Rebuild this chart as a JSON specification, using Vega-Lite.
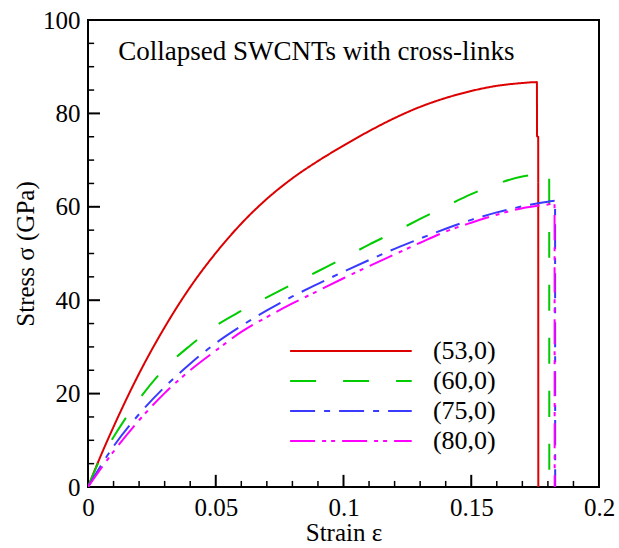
{
  "$schema": "https://vega.github.io/schema/vega-lite/v6.json",
  "width": 511,
  "height": 467,
  "autosize": {"type": "none"},
  "padding": {"left": 88, "top": 20, "right": 20, "bottom": 61},
  "background": "white",
  "config": {
    "view": {"stroke": "black", "strokeWidth": 2},
    "font": "Liberation Serif",
    "axis": {
      "domain": false,
      "grid": false,
      "ticks": false,
      "labelFont": "Liberation Serif",
      "labelFontSize": 25,
      "labelColor": "black",
      "titleFont": "Liberation Serif",
      "titleFontSize": 25,
      "titleFontWeight": "normal",
      "titleColor": "black"
    }
  },
  "resolve": {"scale": {"y": "independent"}, "axis": {"x": "independent", "y": "independent"}},
  "datasets": {
    "curves": [
      {"s": "(53,0)", "e": 0, "sig": 0},
      {"s": "(53,0)", "e": 0.005, "sig": 6.7},
      {"s": "(53,0)", "e": 0.01, "sig": 12.9},
      {"s": "(53,0)", "e": 0.02, "sig": 24.3},
      {"s": "(53,0)", "e": 0.03, "sig": 34.2},
      {"s": "(53,0)", "e": 0.04, "sig": 42.8},
      {"s": "(53,0)", "e": 0.05, "sig": 50.1},
      {"s": "(53,0)", "e": 0.06, "sig": 56.4},
      {"s": "(53,0)", "e": 0.07, "sig": 61.7},
      {"s": "(53,0)", "e": 0.08, "sig": 66.1},
      {"s": "(53,0)", "e": 0.09, "sig": 69.8},
      {"s": "(53,0)", "e": 0.1, "sig": 73.1},
      {"s": "(53,0)", "e": 0.11, "sig": 76.2},
      {"s": "(53,0)", "e": 0.12, "sig": 79.0},
      {"s": "(53,0)", "e": 0.13, "sig": 81.4},
      {"s": "(53,0)", "e": 0.14, "sig": 83.3},
      {"s": "(53,0)", "e": 0.15, "sig": 84.8},
      {"s": "(53,0)", "e": 0.16, "sig": 85.9},
      {"s": "(53,0)", "e": 0.17, "sig": 86.5},
      {"s": "(53,0)", "e": 0.1757, "sig": 86.7},
      {"s": "(53,0)", "e": 0.17575, "sig": 75.1},
      {"s": "(53,0)", "e": 0.1762, "sig": 75.0},
      {"s": "(53,0)", "e": 0.17625, "sig": 0},
      {"s": "(60,0)", "e": 0, "sig": 0},
      {"s": "(60,0)", "e": 0.004, "sig": 5.1},
      {"s": "(60,0)", "e": 0.01, "sig": 10.7},
      {"s": "(60,0)", "e": 0.02, "sig": 18.8},
      {"s": "(60,0)", "e": 0.03, "sig": 25.4},
      {"s": "(60,0)", "e": 0.04, "sig": 30.3},
      {"s": "(60,0)", "e": 0.05, "sig": 34.5},
      {"s": "(60,0)", "e": 0.06, "sig": 37.7},
      {"s": "(60,0)", "e": 0.07, "sig": 40.6},
      {"s": "(60,0)", "e": 0.08, "sig": 43.4},
      {"s": "(60,0)", "e": 0.09, "sig": 46.2},
      {"s": "(60,0)", "e": 0.1, "sig": 49.0},
      {"s": "(60,0)", "e": 0.11, "sig": 51.9},
      {"s": "(60,0)", "e": 0.12, "sig": 54.6},
      {"s": "(60,0)", "e": 0.13, "sig": 57.4},
      {"s": "(60,0)", "e": 0.14, "sig": 60.1},
      {"s": "(60,0)", "e": 0.15, "sig": 62.7},
      {"s": "(60,0)", "e": 0.16, "sig": 64.9},
      {"s": "(60,0)", "e": 0.17, "sig": 66.5},
      {"s": "(60,0)", "e": 0.1771, "sig": 67.0},
      {"s": "(60,0)", "e": 0.1805, "sig": 67.2},
      {"s": "(60,0)", "e": 0.18055, "sig": 0},
      {"s": "(75,0)", "e": 0, "sig": 0},
      {"s": "(75,0)", "e": 0.01, "sig": 8.7},
      {"s": "(75,0)", "e": 0.02, "sig": 15.6},
      {"s": "(75,0)", "e": 0.03, "sig": 21.4},
      {"s": "(75,0)", "e": 0.04, "sig": 26.4},
      {"s": "(75,0)", "e": 0.05, "sig": 30.8},
      {"s": "(75,0)", "e": 0.06, "sig": 34.5},
      {"s": "(75,0)", "e": 0.07, "sig": 37.8},
      {"s": "(75,0)", "e": 0.08, "sig": 40.8},
      {"s": "(75,0)", "e": 0.09, "sig": 43.5},
      {"s": "(75,0)", "e": 0.1, "sig": 46.1},
      {"s": "(75,0)", "e": 0.11, "sig": 48.6},
      {"s": "(75,0)", "e": 0.12, "sig": 51.0},
      {"s": "(75,0)", "e": 0.13, "sig": 53.2},
      {"s": "(75,0)", "e": 0.14, "sig": 55.3},
      {"s": "(75,0)", "e": 0.15, "sig": 57.2},
      {"s": "(75,0)", "e": 0.16, "sig": 58.8},
      {"s": "(75,0)", "e": 0.17, "sig": 60.1},
      {"s": "(75,0)", "e": 0.18, "sig": 61.1},
      {"s": "(75,0)", "e": 0.1828, "sig": 61.3},
      {"s": "(75,0)", "e": 0.18285, "sig": 0},
      {"s": "(80,0)", "e": 0, "sig": 0},
      {"s": "(80,0)", "e": 0.01, "sig": 7.6},
      {"s": "(80,0)", "e": 0.02, "sig": 14.3},
      {"s": "(80,0)", "e": 0.03, "sig": 20.1},
      {"s": "(80,0)", "e": 0.04, "sig": 25.0},
      {"s": "(80,0)", "e": 0.05, "sig": 29.2},
      {"s": "(80,0)", "e": 0.06, "sig": 33.2},
      {"s": "(80,0)", "e": 0.07, "sig": 36.4},
      {"s": "(80,0)", "e": 0.08, "sig": 39.3},
      {"s": "(80,0)", "e": 0.09, "sig": 42.0},
      {"s": "(80,0)", "e": 0.1, "sig": 44.7},
      {"s": "(80,0)", "e": 0.11, "sig": 47.3},
      {"s": "(80,0)", "e": 0.12, "sig": 49.8},
      {"s": "(80,0)", "e": 0.13, "sig": 52.3},
      {"s": "(80,0)", "e": 0.14, "sig": 54.7},
      {"s": "(80,0)", "e": 0.15, "sig": 56.6},
      {"s": "(80,0)", "e": 0.16, "sig": 58.3},
      {"s": "(80,0)", "e": 0.17, "sig": 59.7},
      {"s": "(80,0)", "e": 0.18, "sig": 60.5},
      {"s": "(80,0)", "e": 0.1826, "sig": 60.7},
      {"s": "(80,0)", "e": 0.18265, "sig": 0}
    ],
    "xticks": [
      {"v": 0.01, "kind": "minor"}, {"v": 0.02, "kind": "minor"}, {"v": 0.03, "kind": "minor"}, {"v": 0.04, "kind": "minor"},
      {"v": 0.05, "kind": "major"},
      {"v": 0.06, "kind": "minor"}, {"v": 0.07, "kind": "minor"}, {"v": 0.08, "kind": "minor"}, {"v": 0.09, "kind": "minor"},
      {"v": 0.1, "kind": "major"},
      {"v": 0.11, "kind": "minor"}, {"v": 0.12, "kind": "minor"}, {"v": 0.13, "kind": "minor"}, {"v": 0.14, "kind": "minor"},
      {"v": 0.15, "kind": "major"},
      {"v": 0.16, "kind": "minor"}, {"v": 0.17, "kind": "minor"}, {"v": 0.18, "kind": "minor"}, {"v": 0.19, "kind": "minor"}
    ],
    "yticks": [
      {"v": 5, "kind": "minor"}, {"v": 10, "kind": "minor"}, {"v": 15, "kind": "minor"},
      {"v": 20, "kind": "major"},
      {"v": 25, "kind": "minor"}, {"v": 30, "kind": "minor"}, {"v": 35, "kind": "minor"},
      {"v": 40, "kind": "major"},
      {"v": 45, "kind": "minor"}, {"v": 50, "kind": "minor"}, {"v": 55, "kind": "minor"},
      {"v": 60, "kind": "major"},
      {"v": 65, "kind": "minor"}, {"v": 70, "kind": "minor"}, {"v": 75, "kind": "minor"},
      {"v": 80, "kind": "major"},
      {"v": 85, "kind": "minor"}, {"v": 90, "kind": "minor"}, {"v": 95, "kind": "minor"}
    ],
    "series": [{"s": "(53,0)"}, {"s": "(60,0)"}, {"s": "(75,0)"}, {"s": "(80,0)"}],
    "note": [{"t": "Collapsed SWCNTs with cross-links"}]
  },
  "layer": [
    {
      "data": {"name": "curves"},
      "mark": {"type": "line", "strokeWidth": 2, "clip": true, "interpolate": "monotone"},
      "encoding": {
        "x": {
          "field": "e", "type": "quantitative",
          "scale": {"domain": [0, 0.2], "nice": false, "zero": false},
          "axis": {
            "title": "Strain ε",
            "orient": "bottom",
            "values": [0, 0.05, 0.1, 0.15, 0.2],
            "labelExpr": "datum.value == 0 ? '0' : format(datum.value, '')",
            "labelPadding": 8,
            "labelFlush": false,
            "labelOverlap": false,
            "titleY": 33,
            "titleBaseline": "top"
          }
        },
        "y": {
          "field": "sig", "type": "quantitative",
          "scale": {"domain": [0, 100], "nice": false},
          "axis": {
            "title": "Stress σ (GPa)",
            "orient": "left",
            "values": [0, 20, 40, 60, 80, 100],
            "labelPadding": 8,
            "labelFlush": false,
            "labelOverlap": false,
            "titlePadding": 4
          }
        },
        "color": {
          "field": "s", "type": "nominal",
          "scale": {"domain": ["(53,0)", "(60,0)", "(75,0)", "(80,0)"], "range": ["#dd0000", "#00cc00", "#3a3aff", "#ff00ff"]},
          "legend": null
        },
        "strokeDash": {
          "field": "s", "type": "nominal",
          "scale": {"domain": ["(53,0)", "(60,0)", "(75,0)", "(80,0)"], "range": [[1, 0], [26, 27], [25, 9, 6, 9], [25, 7, 4, 5, 4, 7]]},
          "legend": null
        }
      }
    },
    {
      "data": {"name": "xticks"},
      "transform": [{"filter": "datum.kind == 'major'"}],
      "mark": {"type": "rule", "strokeWidth": 2, "color": "black"},
      "encoding": {
        "x": {"field": "v", "type": "quantitative", "axis": null},
        "y": {"datum": 0, "type": "quantitative", "axis": null, "scale": {"domain": [0, 100], "nice": false}},
        "y2": {"datum": 2.6}
      }
    },
    {
      "data": {"name": "xticks"},
      "transform": [{"filter": "datum.kind == 'minor'"}],
      "mark": {"type": "rule", "strokeWidth": 1.5, "color": "black"},
      "encoding": {
        "x": {"field": "v", "type": "quantitative", "axis": null},
        "y": {"datum": 0, "type": "quantitative", "axis": null, "scale": {"domain": [0, 100], "nice": false}},
        "y2": {"datum": 1.3}
      }
    },
    {
      "data": {"name": "yticks"},
      "transform": [{"filter": "datum.kind == 'major'"}],
      "mark": {"type": "rule", "strokeWidth": 2, "color": "black"},
      "encoding": {
        "y": {"field": "v", "type": "quantitative", "axis": null, "scale": {"domain": [0, 100], "nice": false}},
        "x": {"datum": 0, "type": "quantitative", "axis": null},
        "x2": {"datum": 0.0047}
      }
    },
    {
      "data": {"name": "yticks"},
      "transform": [{"filter": "datum.kind == 'minor'"}],
      "mark": {"type": "rule", "strokeWidth": 1.5, "color": "black"},
      "encoding": {
        "y": {"field": "v", "type": "quantitative", "axis": null, "scale": {"domain": [0, 100], "nice": false}},
        "x": {"datum": 0, "type": "quantitative", "axis": null},
        "x2": {"datum": 0.0024}
      }
    },
    {
      "data": {"name": "note"},
      "mark": {"type": "text", "align": "left", "baseline": "alphabetic", "fontSize": 27, "font": "Liberation Serif", "color": "black"},
      "encoding": {
        "x": {"datum": 0.0118, "type": "quantitative", "axis": null},
        "y": {"datum": 91.5, "type": "quantitative", "axis": null, "scale": {"domain": [0, 100], "nice": false}},
        "text": {"field": "t"}
      }
    },
    {
      "data": {"name": "series"},
      "mark": {"type": "rule", "strokeWidth": 2},
      "encoding": {
        "x": {"datum": 0.0791, "type": "quantitative", "axis": null},
        "x2": {"datum": 0.1267},
        "y": {"field": "s", "type": "nominal", "axis": null,
              "scale": {"type": "point", "domain": ["(53,0)", "(60,0)", "(75,0)", "(80,0)"], "range": [331, 421], "padding": 0}},
        "color": {"field": "s", "type": "nominal", "legend": null},
        "strokeDash": {"field": "s", "type": "nominal", "legend": null}
      }
    },
    {
      "data": {"name": "series"},
      "mark": {"type": "text", "align": "left", "baseline": "middle", "fontSize": 26, "font": "Liberation Serif", "color": "black"},
      "encoding": {
        "x": {"datum": 0.135, "type": "quantitative", "axis": null},
        "y": {"field": "s", "type": "nominal", "axis": null,
              "scale": {"type": "point", "domain": ["(53,0)", "(60,0)", "(75,0)", "(80,0)"], "range": [331, 421], "padding": 0}},
        "text": {"field": "s"}
      }
    }
  ]
}
